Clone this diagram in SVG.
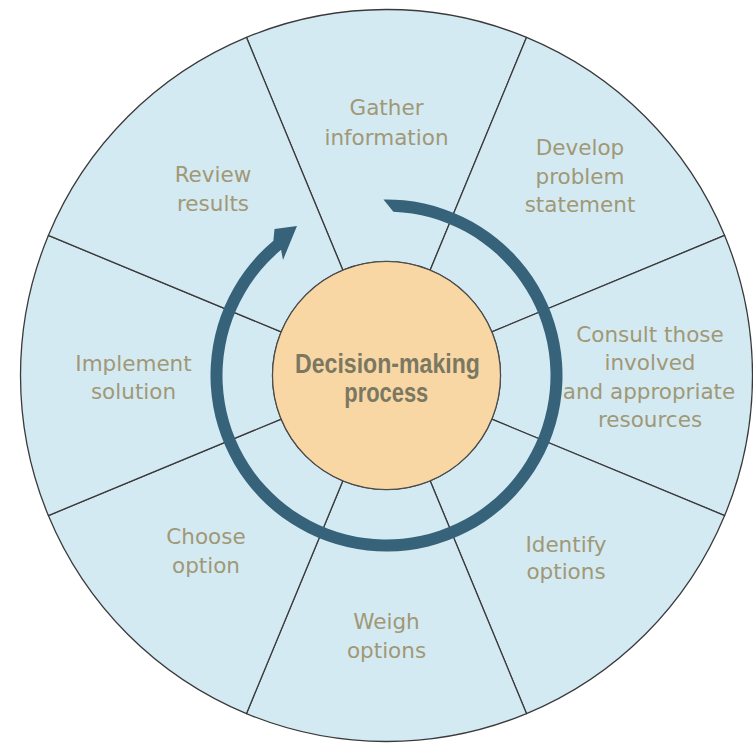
<svg xmlns="http://www.w3.org/2000/svg" width="753" height="745" viewBox="0 0 753 745">
<style>
.sec{fill:#d4eaf2;stroke:#3a3a3a;stroke-width:1.3;stroke-linejoin:round}
.lbl{font-family:"DejaVu Sans","Liberation Sans",sans-serif;font-size:21.5px;fill:#a09876;text-anchor:middle}
.ctr{font-family:"Liberation Sans Narrow","Liberation Sans",sans-serif;font-weight:bold;font-size:28px;fill:#7b7862;text-anchor:middle}
.ring{fill:#36627a}
</style>
<rect width="753" height="745" fill="#ffffff"/>
<g id="gather">
<path class="sec" d="M246.44 37.36 A366 366 0 0 1 526.56 37.36 L430.13 270.18 A114 114 0 0 0 342.87 270.18 Z"/>
<text class="lbl" x="386.5" y="115">Gather</text>
<text class="lbl" x="386.5" y="145">information</text>
</g>
<g id="develop">
<path class="sec" d="M526.56 37.36 A366 366 0 0 1 724.64 235.44 L491.82 331.87 A114 114 0 0 0 430.13 270.18 Z"/>
<text class="lbl" x="580" y="155">Develop</text>
<text class="lbl" x="580" y="183.5">problem</text>
<text class="lbl" x="580" y="212">statement</text>
</g>
<g id="consult">
<path class="sec" d="M724.64 235.44 A366 366 0 0 1 724.64 515.56 L491.82 419.13 A114 114 0 0 0 491.82 331.87 Z"/>
<text class="lbl" x="650" y="341.5">Consult those</text>
<text class="lbl" x="650" y="370">involved</text>
<text class="lbl" x="649" y="398.5">and appropriate</text>
<text class="lbl" x="650" y="427">resources</text>
</g>
<g id="identify">
<path class="sec" d="M724.64 515.56 A366 366 0 0 1 526.56 713.64 L430.13 480.82 A114 114 0 0 0 491.82 419.13 Z"/>
<text class="lbl" x="566" y="552">Identify</text>
<text class="lbl" x="566" y="579">options</text>
</g>
<g id="weigh">
<path class="sec" d="M526.56 713.64 A366 366 0 0 1 246.44 713.64 L342.87 480.82 A114 114 0 0 0 430.13 480.82 Z"/>
<text class="lbl" x="386.5" y="629">Weigh</text>
<text class="lbl" x="386.5" y="657.5">options</text>
</g>
<g id="choose">
<path class="sec" d="M246.44 713.64 A366 366 0 0 1 48.36 515.56 L281.18 419.13 A114 114 0 0 0 342.87 480.82 Z"/>
<text class="lbl" x="206" y="544">Choose</text>
<text class="lbl" x="206" y="573">option</text>
</g>
<g id="implement">
<path class="sec" d="M48.36 515.56 A366 366 0 0 1 48.36 235.44 L281.18 331.87 A114 114 0 0 0 281.18 419.13 Z"/>
<text class="lbl" x="133.5" y="371">Implement</text>
<text class="lbl" x="133.5" y="398.5">solution</text>
</g>
<g id="review">
<path class="sec" d="M48.36 235.44 A366 366 0 0 1 246.44 37.36 L342.87 270.18 A114 114 0 0 0 281.18 331.87 Z"/>
<text class="lbl" x="213" y="182">Review</text>
<text class="lbl" x="213" y="211">results</text>
</g>
<g id="connectors">
<path class="ring" d="M383.43 199.53 A176 176 0 1 1 273.37 240.68 L274.5 229 L297 226 L283 260 L281.08 249.87 A164 164 0 1 0 393.37 211.64 Z"/>
</g>
<g id="center">
<circle cx="386.5" cy="375.5" r="114" fill="#f8d7a5" stroke="#4a4a4a" stroke-width="1.2"/>
<text class="ctr" x="387.5" y="373.3" textLength="185" lengthAdjust="spacingAndGlyphs">Decision-making</text>
<text class="ctr" x="386.3" y="401.5" textLength="84" lengthAdjust="spacingAndGlyphs">process</text>
</g>
</svg>
